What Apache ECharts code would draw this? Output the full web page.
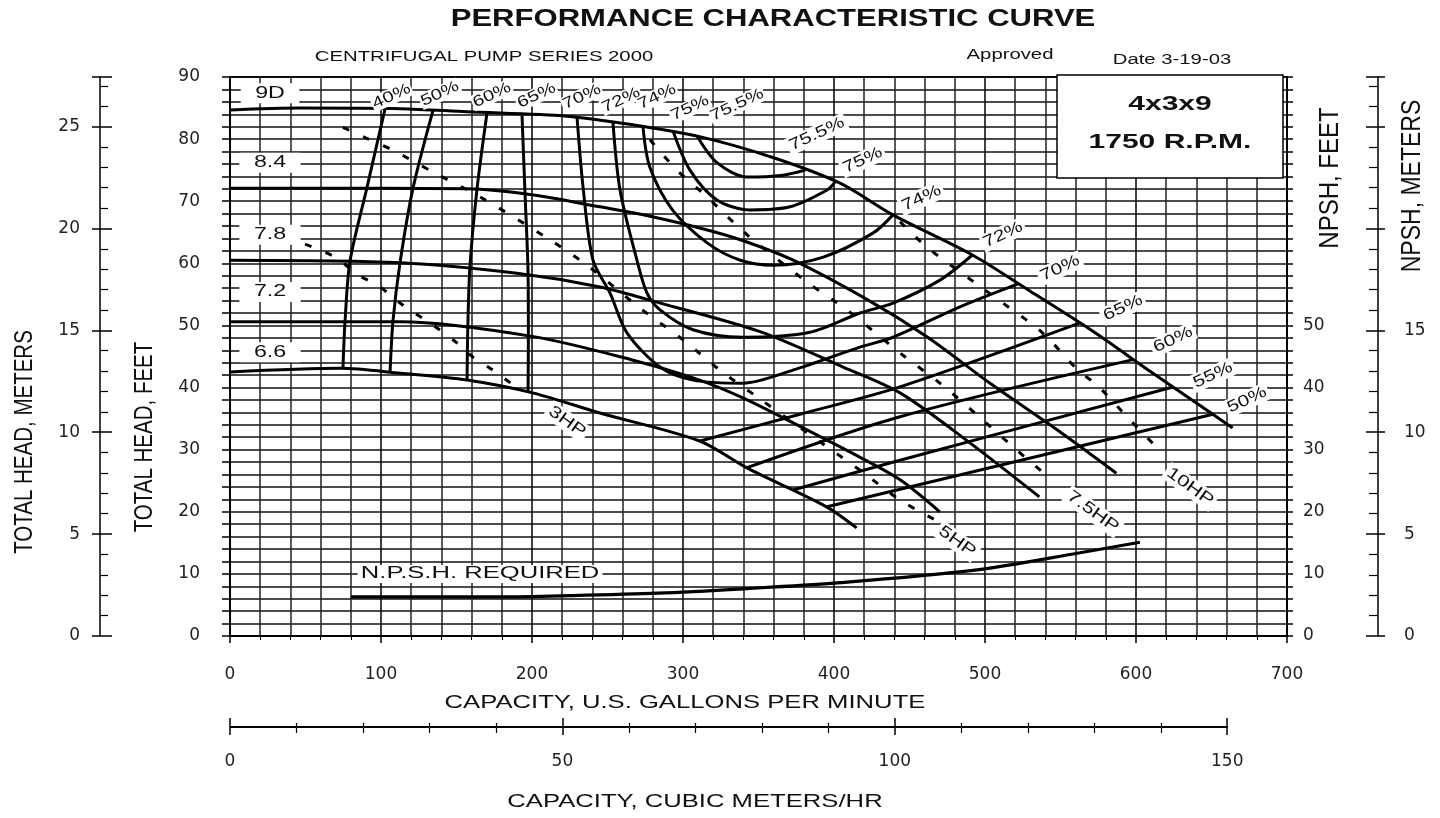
<!DOCTYPE html>
<html>
<head>
<meta charset="utf-8">
<script src="https://cdn.jsdelivr.net/npm/echarts@6/dist/echarts.min.js"></script>
<style>
html,body{margin:0;padding:0;background:#fff;}
#chart{width:1440px;height:818px;}
</style>
</head>
<body>
<div id="chart"></div>
<script>
// ---------------- DATA (capacity in US gpm, head in feet) ----------------
const capacityGpmMax = 700;
const headFeetMax = 90;
const headMetersMax = 27.432;      // 90 ft expressed in metres
const capacityM3hMax = 150;
const m3hPerGpm = 0.2271247;
const headMeterLabels = [0, 5, 10, 15, 20, 25];
const npshFeetLabels = [0, 10, 20, 30, 40, 50];
const npshMeterLabels = [0, 5, 10, 15];

// impeller head-capacity curves
const head9D  = [[0,84.7],[46,85.0],[113,84.9],[157,84.4],[223,83.7],[267,82.3],[311,80.4],[360,77.0],[404,72.9],[439,67.8],[492,61.3],[530,55.5],[570,49.3],[610,42.5],[640,37.5],[664,33.5]];
const head84  = [[0,72.1],[46,72.1],[157,72.0],[201,71.0],[245,69.1],[272,67.9],[311,65.7],[338,63.8],[373,60.5],[426,53.6],[462,48.1],[505,40.4],[550,32.8],[587,26.2]];
const head78  = [[0,60.5],[113,60.1],[190,58.4],[245,56.2],[285,53.6],[351,49.0],[406,43.3],[444,39.1],[490,31.1],[536,22.4]];
const head72  = [[0,50.6],[113,50.6],[201,48.2],[267,44.4],[311,41.2],[340,38.3],[373,34.3],[417,28.8],[444,25.1],[470,20.0]];
const head66  = [[0,42.5],[73,43.1],[113,42.3],[157,41.2],[201,39.1],[245,35.9],[311,31.4],[342,27.1],[395,20.8],[415,17.4]];

// iso-efficiency curves
const eff40  = [[102.6,84.8],[90.7,72.2],[79.5,60.4],[76.2,50.7],[74.8,43.1]];
const eff50  = [[134.4,84.6],[121.2,72.1],[112.6,60.1],[107.9,50.6],[106,42.4]];
const eff60  = [[170.2,84.2],[163.6,72.0],[158.9,59.5],[157.5,49.7],[157,41.2]];
const eff65  = [[193.4,83.8],[195.4,71.1],[197.4,58.3],[197.6,48.3],[197.4,39.3]];
const eff70  = [[229.8,83.6],[233.8,72.3],[240.4,60.5],[251.7,55.2],[262.9,48.8],[284.8,43.3],[306.6,41.2],[339.7,40.7],[372.8,42.8],[417.2,46.5],[439.1,48.1],[483.4,53.0],[521.9,56.7]];
const eff72  = [[253.6,82.7],[258.3,71.8],[269.5,60.5],[276.2,55.2],[284.8,52.5],[306.6,49.3],[339.7,48.1],[384.1,48.9],[417.2,52.0],[439.1,53.6],[470.2,57.3],[491.4,61.3]];
const eff74  = [[273.5,82.0],[278,75.5],[293,68.6],[316,63.3],[338,60.5],[360,59.7],[393,61.0],[426,64.9],[439,67.8]];
const eff75  = [[293.4,81.3],[304.6,75.0],[322.5,70.2],[344.4,68.6],[370.9,69.1],[395.4,71.8],[401,73.2]];
const eff755 = [[309.3,80.5],[322.5,76.2],[342.4,73.9],[366.2,74.2],[381,75.0]];
const eff65R = [[311.3,31.4],[377.5,35.7],[443.7,40.1],[562.9,50.4]];
const eff60R = [[342.4,27.1],[443.7,35.3],[598,44.5]];
const eff55R = [[372.8,23.5],[443.7,28.3],[624.5,40.1]];
const eff50R = [[395.4,20.8],[651,35.7]];

// brake horsepower curves (dashed)
const hp3   = [[49.7,63.1],[70.5,60.9],[83.8,58.3],[99.3,56.2],[112.6,53.6],[137.1,49.6],[150.3,47.2],[160.9,44.9],[174.2,42.8],[192.1,39.6]];
const hp5   = [[74.8,81.9],[90.7,80.1],[107.9,78.2],[134.4,74.7],[165.6,70.7],[209.9,64.1],[236.4,59.7],[271.5,52.8],[300,47.7],[324.5,42.8],[349,38.5],[388.7,31.6],[417.2,26.7],[443.7,21.9],[466.9,18.7]];
const hp75  = [[278.1,79.9],[296,75.0],[315.9,70.7],[342.4,64.6],[382.1,57.0],[408.6,52.5],[445.7,45.2],[470.2,40.7],[494.7,35.6],[521.2,29.9],[544.4,25.1]];
const hp10  = [[443.7,66.7],[461.6,62.6],[488.1,57.8],[511.9,53.6],[537.7,48.9],[561.6,42.8],[574.2,40.4],[594,35.3],[617.2,29.5]];

// NPSH required (feet)
const npshReq = [[80.1,6.3],[178.8,6.3],[225,6.5],[283.4,6.9],[340,7.6],[400,8.5],[493.4,10.6],[562.9,13.4],[602.6,15.1]];

// labels: [text, gpm, feet]
const diameterLabels = [['9D',26.5,87.4],['8.4',26.5,76.2],['7.8',26.5,64.6],['7.2',26.5,55.4],['6.6',26.5,45.7]];
const effTopLabels = [['40%',107,86.9],['50%',139,87.3],['60%',173.5,87.1],['65%',203,87.0],['70%',233,86.8],['72%',259,86.3],['74%',282.8,86.8],['75%',304.6,85.0],['75.5%',335.8,85.5]];
const effRightLabels = [['75.5%',388.7,80.8],['75%',419,76.6],['74%',458,70.5],['72%',512,64.6],['70%',549.7,59.2],['65%',591.4,52.8],['60%',624.5,47.7],['55%',651,42.0],['50%',673.5,38.0]];
const hpLabels = [['3HP',223.2,34.5],['5HP',481.5,15.2],['7.5HP',571.5,20.0],['10HP',635.8,24.0]];
const npshLabel = [['N.P.S.H. REQUIRED',165.6,10.0]];

// ---------------- LAYOUT ----------------
const gridLeft = 230, gridRight = 1287, gridTop = 77, gridBottom = 636;
const m3hAxisEnd = gridLeft + (gridRight - gridLeft) * capacityM3hMax / (capacityGpmMax * m3hPerGpm);
const FONT = 'Liberation Sans';
const TICKFONT = 'DejaVu Sans';

function curve(name, data, width, dashed) {
  return {
    name, type: 'line', xAxisIndex: 0, yAxisIndex: 0, data,
    symbol: 'none', showSymbol: false, smooth: 0.3, silent: true, animation: false, z: 3,
    lineStyle: { color: '#000', width: width, type: dashed ? [7, 15] : 'solid', cap: 'butt' }
  };
}

function textLayer(items, st) {
  return {
    type: 'custom', xAxisIndex: 0, yAxisIndex: 0, silent: true, animation: false, clip: false, z: 20,
    data: items.map(it => [it[1], it[2]]),
    renderItem: function (params, api) {
      const it = items[params.dataIndex];
      const p = api.coord([api.value(0), api.value(1)]);
      return {
        type: 'text', x: p[0], y: p[1],
        rotation: (st.rot || 0) * Math.PI / 180, scaleX: st.sx || 1, scaleY: st.sy || 1,
        style: {
          text: it[0], fontFamily: FONT, fontSize: st.size, fontWeight: st.weight || 'normal',
          fill: '#111', align: 'center', verticalAlign: 'middle', textAlign: 'center', textVerticalAlign: 'middle',
          backgroundColor: '#fff', padding: st.pad || [1, 2]
        }
      };
    }
  };
}

function gtext(text, x, y, size, o) {
  o = o || {};
  return {
    type: 'text', x, y, z: 60,
    rotation: (o.rot || 0) * Math.PI / 180, scaleX: o.sx || 1, scaleY: o.sy || 1,
    style: {
      text, fontFamily: FONT, fontSize: size, fontWeight: o.weight || 'normal', fill: o.fill || '#111',
      align: 'center', verticalAlign: 'middle', textAlign: 'center', textVerticalAlign: 'middle'
    }
  };
}

const blackLine = { color: '#000', width: 1.5 };
const tickLabel = { fontFamily: TICKFONT, fontSize: 17, color: '#222' };

const option = {
  backgroundColor: '#fff',
  animation: false,
  grid: [
    { left: gridLeft, right: 1440 - gridRight, top: gridTop, height: gridBottom - gridTop,
      show: true, backgroundColor: '#fff', borderColor: '#000', borderWidth: 2, containLabel: false, outerBoundsMode: 'none' },
    { left: gridLeft, right: 1440 - m3hAxisEnd, top: 726, height: 1, show: false, containLabel: false, outerBoundsMode: 'none' }
  ],
  xAxis: [
    { gridIndex: 0, type: 'value', min: 0, max: capacityGpmMax, interval: 100, position: 'bottom',
      axisLine: { show: true, lineStyle: blackLine },
      axisTick: { show: true, length: 7, lineStyle: blackLine },
      minorTick: { show: true, splitNumber: 5, length: 4, lineStyle: { color: '#000', width: 1 } },
      axisLabel: Object.assign({ margin: 30 }, tickLabel),
      splitLine: { show: true, lineStyle: { color: '#111', width: 1.6 } },
      minorSplitLine: { show: true, lineStyle: { color: '#222', width: 1.5 } } },
    { gridIndex: 1, type: 'value', min: 0, max: capacityM3hMax, interval: 50, position: 'bottom',
      axisLine: { show: true, lineStyle: { color: '#000', width: 2 } },
      axisTick: { show: true, length: 8, lineStyle: blackLine },
      minorTick: { show: true, splitNumber: 5, length: 6, lineStyle: { color: '#000', width: 1.2 } },
      axisLabel: Object.assign({ margin: 26 }, tickLabel),
      splitLine: { show: false } },
    { gridIndex: 1, type: 'value', min: 0, max: capacityM3hMax, interval: 50, position: 'top',
      axisLine: { show: false },
      axisTick: { show: true, length: 8, lineStyle: blackLine },
      minorTick: { show: true, splitNumber: 5, length: 3, lineStyle: { color: '#000', width: 1.2 } },
      axisLabel: { show: false }, splitLine: { show: false } }
  ],
  yAxis: [
    { gridIndex: 0, type: 'value', min: 0, max: headFeetMax, interval: 10, position: 'left',
      axisLine: { show: true, lineStyle: blackLine },
      axisTick: { show: true, length: 8, lineStyle: blackLine },
      minorTick: { show: true, splitNumber: 5, length: 8, lineStyle: blackLine },
      axisLabel: Object.assign({ margin: 30 }, tickLabel),
      splitLine: { show: true, lineStyle: { color: '#111', width: 1.6 } },
      minorSplitLine: { show: true, lineStyle: { color: '#111', width: 1.6 } } },
    { gridIndex: 0, type: 'value', min: 0, max: headMetersMax, interval: 5, position: 'left', offset: gridLeft - 100,
      axisLine: { show: true, onZero: false, lineStyle: blackLine },
      axisTick: { show: true, inside: true, length: 12, lineStyle: blackLine },
      minorTick: { show: true, splitNumber: 5, length: 8, lineStyle: { color: '#000', width: 1.2 } },
      axisLabel: Object.assign({ margin: 20, showMaxLabel: false,
        formatter: v => headMeterLabels.includes(Math.round(v * 1000) / 1000) ? String(v) : '' }, tickLabel),
      splitLine: { show: false } },
    { gridIndex: 0, type: 'value', min: 0, max: headMetersMax, interval: 5, position: 'left', offset: gridLeft - 100,
      axisLine: { show: false }, axisTick: { show: true, length: 8, lineStyle: blackLine },
      axisLabel: { show: false }, splitLine: { show: false } },
    { gridIndex: 0, type: 'value', min: 0, max: headFeetMax, interval: 10, position: 'right',
      axisLine: { show: true, lineStyle: blackLine },
      axisTick: { show: true, length: 6, lineStyle: blackLine },
      minorTick: { show: true, splitNumber: 5, length: 6, lineStyle: blackLine },
      axisLabel: Object.assign({ margin: 16, formatter: v => npshFeetLabels.includes(v) ? String(v) : '' }, tickLabel),
      splitLine: { show: false } },
    { gridIndex: 0, type: 'value', min: 0, max: headMetersMax, interval: 5, position: 'right', offset: 1378 - gridRight,
      axisLine: { show: true, onZero: false, lineStyle: blackLine },
      axisTick: { show: true, inside: true, length: 12, lineStyle: blackLine },
      minorTick: { show: true, splitNumber: 5, length: 9, lineStyle: { color: '#000', width: 1.2 } },
      axisLabel: Object.assign({ margin: 26, showMaxLabel: false,
        formatter: v => npshMeterLabels.includes(Math.round(v * 1000) / 1000) ? String(v) : '' }, tickLabel),
      splitLine: { show: false } },
    { gridIndex: 0, type: 'value', min: 0, max: headMetersMax, interval: 5, position: 'right', offset: 1378 - gridRight,
      axisLine: { show: false }, axisTick: { show: true, length: 7, lineStyle: blackLine },
      axisLabel: { show: false }, splitLine: { show: false } },
    { gridIndex: 1, type: 'value', min: 0, max: 1, show: false }
  ],
  series: [
    curve('9D', head9D, 3), curve('8.4', head84, 3), curve('7.8', head78, 3), curve('7.2', head72, 3), curve('6.6', head66, 3),
    curve('40%', eff40, 3), curve('50%', eff50, 3), curve('60%', eff60, 3), curve('65%', eff65, 3),
    curve('70%', eff70, 3), curve('72%', eff72, 3), curve('74%', eff74, 3), curve('75%', eff75, 3), curve('75.5%', eff755, 3),
    curve('65% R', eff65R, 3), curve('60% R', eff60R, 3), curve('55% R', eff55R, 3), curve('50% R', eff50R, 3),
    curve('3HP', hp3, 3, true), curve('5HP', hp5, 3, true), curve('7.5HP', hp75, 3, true), curve('10HP', hp10, 3, true),
    curve('NPSH', npshReq, 3.2),
    textLayer(diameterLabels, { size: 16, sx: 1.45, pad: [2, 10] }),
    textLayer(effTopLabels, { size: 15.5, sx: 1.3, rot: 25, pad: [0, 1] }),
    textLayer(effRightLabels, { size: 16, sx: 1.3, rot: 25, pad: [1, 2] }),
    textLayer(hpLabels, { size: 16.5, sx: 1.3, rot: -36, pad: [1, 2] }),
    textLayer(npshLabel, { size: 16, sx: 1.6, pad: [1, 2] })
  ],
  graphic: [
    gtext('PERFORMANCE CHARACTERISTIC CURVE', 773, 20, 23, { weight: 'bold', sx: 1.35 }),
    gtext('CENTRIFUGAL PUMP SERIES 2000', 484, 57, 14, { sx: 1.45 }),
    gtext('Approved', 1010, 55, 14, { sx: 1.45 }),
    gtext('Date 3-19-03', 1172, 60, 14, { sx: 1.45 }),
    { type: 'rect', z: 55, shape: { x: 1057, y: 75, width: 226, height: 103 }, style: { fill: '#fff', stroke: '#000', lineWidth: 1.5 } },
    gtext('4x3x9', 1170, 104, 20, { weight: 'bold', sx: 1.5 }),
    gtext('1750 R.P.M.', 1170, 142, 20, { weight: 'bold', sx: 1.5 }),
    gtext('CAPACITY, U.S. GALLONS PER MINUTE', 685, 703, 19, { sx: 1.35 }),
    gtext('CAPACITY, CUBIC METERS/HR', 695, 802, 19, { sx: 1.35 }),
    gtext('TOTAL HEAD, METERS', 25, 442, 20.5, { rot: 90, sy: 1.3 }),
    gtext('TOTAL HEAD, FEET', 145, 437, 20.5, { rot: 90, sy: 1.3 }),
    gtext('NPSH, FEET', 1330, 178, 24, { rot: 90, sy: 1.15 }),
    gtext('NPSH, METERS', 1412, 186, 23, { rot: 90, sy: 1.2 })
  ]
};

const chart = echarts.init(document.getElementById('chart'), null, { renderer: 'canvas' });
chart.setOption(option);
</script>
</body>
</html>
